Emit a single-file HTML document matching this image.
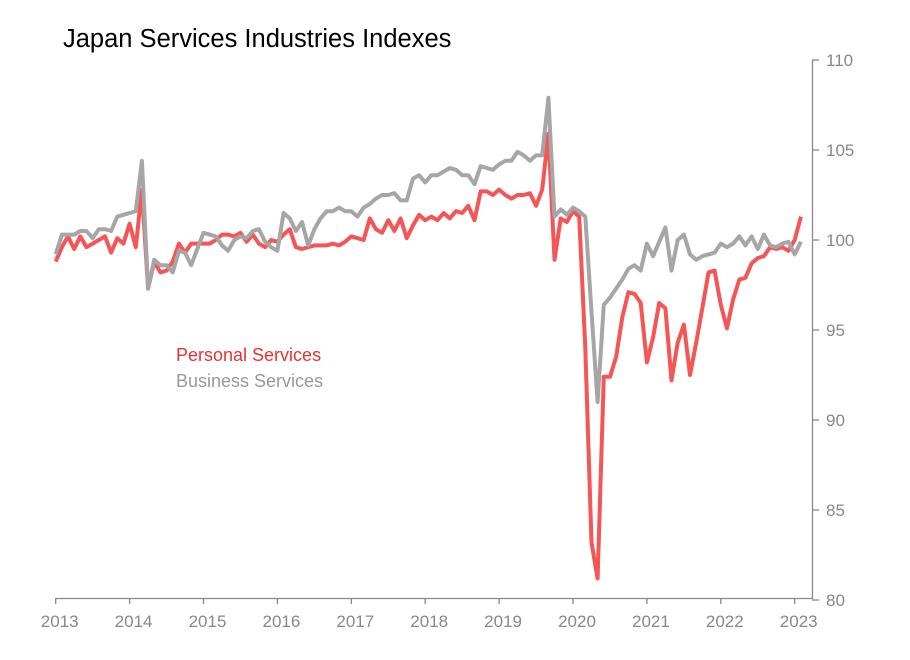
<!DOCTYPE html>
<html><head><meta charset="utf-8"><style>
html,body{margin:0;padding:0;background:#fff;width:910px;height:660px;overflow:hidden}
svg{display:block;font-family:"Liberation Sans",sans-serif}
</style></head><body>
<svg id="chart" width="910" height="660">
<text x="63" y="47" font-size="25.5" fill="#000">Japan Services Industries Indexes</text>
<g id="axes"></g>
<g id="series"></g>
<text x="176" y="361" font-size="18" fill="#e8312f">Personal Services</text>
<text x="176" y="387" font-size="18" fill="#999">Business Services</text>
</svg>
<script>
const years=[2013,2014,2015,2016,2017,2018,2019,2020,2021,2022,2023];
const yTicks=[80,85,90,95,100,105,110];
const personal=[98.8,99.6,100.2,99.5,100.2,99.6,99.8,100.0,100.2,99.3,100.1,99.8,
100.9,99.6,102.8,97.3,98.8,98.2,98.3,98.8,99.8,99.3,99.8,99.8,
99.8,99.8,100.0,100.3,100.3,100.2,100.4,99.9,100.3,99.8,99.6,100.0,99.9,
100.3,100.6,99.6,99.5,99.6,99.7,99.7,99.7,99.8,99.7,99.9,100.2,
100.1,100.0,101.2,100.6,100.4,101.1,100.5,101.2,100.1,100.8,101.4,101.1,
101.3,101.1,101.5,101.2,101.6,101.5,101.9,101.1,102.7,102.7,102.5,102.8,
102.5,102.3,102.5,102.5,102.6,101.9,102.8,105.9,98.9,101.2,101.0,101.6,
101.3,94.0,83.2,81.2,92.4,92.4,93.5,95.7,97.1,97.0,96.5,93.2,
94.6,96.5,96.2,92.2,94.3,95.3,92.5,94.3,96.2,98.2,98.3,96.4,
95.1,96.7,97.8,97.9,98.7,99.0,99.1,99.6,99.5,99.6,99.4,100.0,101.3];
const business=[99.2,100.3,100.3,100.3,100.5,100.5,100.1,100.6,100.6,100.5,101.3,101.4,
101.5,101.6,104.4,97.3,98.9,98.6,98.6,98.2,99.4,99.3,98.6,99.5,
100.4,100.3,100.2,99.7,99.4,100.0,100.2,100.1,100.5,100.6,99.9,99.6,
99.4,101.5,101.2,100.5,101.0,99.7,100.6,101.2,101.6,101.6,101.8,101.6,
101.6,101.3,101.8,102.0,102.3,102.5,102.5,102.6,102.2,102.2,103.4,103.6,
103.2,103.6,103.6,103.8,104.0,103.9,103.6,103.6,103.1,104.1,104.0,103.9,
104.2,104.4,104.4,104.9,104.7,104.4,104.7,104.7,107.9,101.3,101.7,101.4,
101.8,101.6,101.3,96.0,91.0,96.4,96.8,97.3,97.8,98.4,98.6,98.3,
99.8,99.1,99.9,100.7,98.3,100.0,100.3,99.2,98.9,99.1,99.2,99.3,
99.8,99.6,99.8,100.2,99.7,100.2,99.5,100.3,99.7,99.6,99.8,99.9,99.2,99.9];
const NS="http://www.w3.org/2000/svg";
const x0=55.7,pxYear=73.9;
function xs(m){return x0+m*pxYear/12;}
function ys(v){return 600-(v-80)*18;}
const axes=document.getElementById('axes');
function mk(tag,attrs,parent){const e=document.createElementNS(NS,tag);for(const k in attrs)e.setAttribute(k,attrs[k]);parent.appendChild(e);return e;}
const xa=mk('line',{x1:x0,y1:598.5,x2:813,y2:598.5,stroke:'#888','stroke-width':1.3},axes);


const ya=mk('line',{x1:812.5,y1:60,x2:812.5,y2:599,stroke:'#888','stroke-width':1.3},axes);


years.forEach((yr,i)=>{
  const x=xs(i*12);
  const t=mk('line',{x1:x,y1:598,x2:x,y2:604,stroke:'#888','stroke-width':1.3},axes);
  
  
  const l=mk('text',{x:x+4,y:627,'font-size':17,fill:'#888','text-anchor':'middle'},axes);
  l.textContent=yr;
  
  
});
yTicks.forEach(v=>{
  const y=ys(v);
  const t=mk('line',{x1:812,y1:y,x2:819,y2:y,stroke:'#888','stroke-width':1.3},axes);
  
  
  const l=mk('text',{x:826,y:y+6,'font-size':17,fill:'#888'},axes);
  l.textContent=v;
  
  
});
const sg=document.getElementById('series');
function line(data,color,name){
  const d=data.map((v,i)=>(i?'L':'M')+xs(i).toFixed(1)+' '+ys(v).toFixed(1)).join(' ');
  const p=mk('path',{d:d,fill:'none',stroke:color,'stroke-width':4,'stroke-linejoin':'round'},sg);
  
  
}
line(personal,'#f55555','personal-services-line');
line(business,'#a6a6a6','business-services-line');
</script>
</body></html>
